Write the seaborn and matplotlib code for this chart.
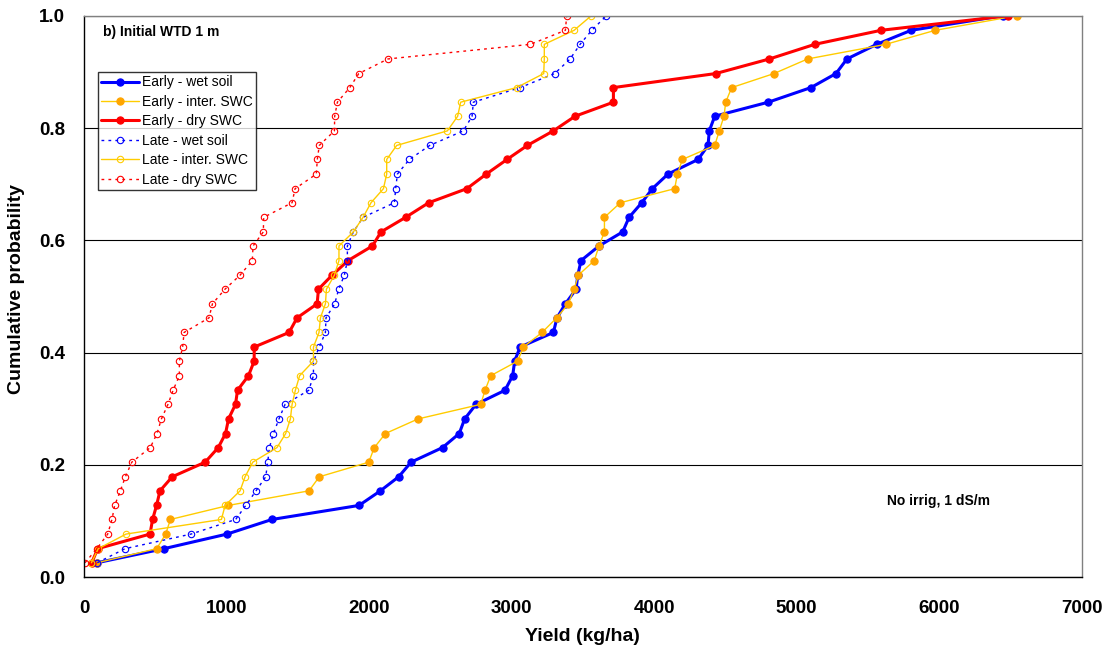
import matplotlib
matplotlib.use("Agg")
import matplotlib.pyplot as plt
import seaborn as sns

# cumulative probability of each ranked yield (39 seasons)
prob = [0.026, 0.051, 0.077, 0.103, 0.128, 0.154, 0.179, 0.205, 0.231, 0.256,
        0.282, 0.308, 0.333, 0.359, 0.385, 0.410, 0.436, 0.462, 0.487, 0.513,
        0.538, 0.564, 0.590, 0.615, 0.641, 0.667, 0.692, 0.718, 0.744, 0.769,
        0.795, 0.821, 0.846, 0.872, 0.897, 0.923, 0.949, 0.974, 1.000]

# yields in kg/ha
early_wet = [93, 561, 1004, 1319, 1930, 2080, 2208, 2295, 2516, 2633,
             2671, 2751, 2954, 3008, 3022, 3060, 3294, 3319, 3378, 3453,
             3465, 3488, 3614, 3780, 3825, 3914, 3988, 4098, 4309, 4379,
             4388, 4426, 4802, 5101, 5277, 5354, 5563, 5804, 6449]
early_inter = [93, 510, 573, 606, 1013, 1579, 1651, 1998, 2037, 2115,
               2344, 2784, 2814, 2854, 3043, 3083, 3214, 3317, 3399, 3439,
               3469, 3581, 3614, 3652, 3652, 3764, 4145, 4164, 4199, 4426,
               4458, 4491, 4503, 4545, 4842, 5078, 5626, 5974, 6547]
early_dry = [54, 96, 463, 481, 509, 533, 619, 850, 942, 993,
             1014, 1063, 1077, 1154, 1194, 1194, 1439, 1495, 1636, 1645,
             1741, 1853, 2024, 2084, 2257, 2419, 2686, 2823, 2968, 3111,
             3294, 3446, 3715, 3715, 4433, 4810, 5128, 5593, 6487]
late_wet = [93, 288, 751, 1064, 1135, 1207, 1275, 1289, 1301, 1329,
            1368, 1411, 1577, 1610, 1610, 1651, 1694, 1698, 1759, 1787,
            1827, 1848, 1848, 1890, 1958, 2178, 2187, 2199, 2283, 2426,
            2662, 2723, 2732, 3060, 3303, 3411, 3481, 3563, 3666]
late_inter = [52, 100, 295, 964, 990, 1095, 1130, 1184, 1354, 1415,
              1448, 1460, 1483, 1513, 1610, 1610, 1649, 1659, 1694, 1701,
              1757, 1789, 1789, 1890, 1958, 2014, 2101, 2124, 2124, 2194,
              2550, 2622, 2643, 3036, 3226, 3230, 3230, 3439, 3560]
late_dry = [7, 90, 166, 196, 215, 255, 290, 335, 465, 512,
            543, 589, 625, 669, 669, 692, 702, 877, 901, 989,
            1095, 1181, 1186, 1258, 1261, 1460, 1481, 1630, 1637, 1651,
            1757, 1759, 1778, 1865, 1928, 2133, 3132, 3378, 3387]

names = ["Early - wet soil", "Early - inter. SWC", "Early - dry SWC",
         "Late - wet soil", "Late - inter. SWC", "Late - dry SWC"]
yields = [early_wet, early_inter, early_dry, late_wet, late_inter, late_dry]

x_ticks = [0, 1000, 2000, 3000, 4000, 5000, 6000, 7000]
y_ticks = [0.0, 0.2, 0.4, 0.6, 0.8, 1.0]

dot = (0, (2, 3))
styles = {
    "Early - wet soil":   dict(color="#0000ff", lw=2.2, ls="-", ms=5.2, mfc="#0000ff", mec="#0000ff", mew=0.8),
    "Early - inter. SWC": dict(color="#ffcc00", lw=1.0, ls="-", ms=5.2, mfc="#ffa500", mec="#ffa500", mew=0.8),
    "Early - dry SWC":    dict(color="#ff0000", lw=2.2, ls="-", ms=5.2, mfc="#ff0000", mec="#ff0000", mew=0.8),
    "Late - wet soil":    dict(color="#0000ff", lw=1.0, ls=dot, ms=4.6, mfc="none", mec="#0000ff", mew=0.8),
    "Late - inter. SWC":  dict(color="#ffcc00", lw=1.0, ls="-", ms=4.6, mfc="none", mec="#ffcc00", mew=0.8),
    "Late - dry SWC":     dict(color="#ff0000", lw=1.0, ls=dot, ms=4.6, mfc="none", mec="#ff0000", mew=0.8),
}

sns.set_style("white")
plt.rcParams["font.family"] = ["Liberation Sans", "DejaVu Sans"]
plt.rcParams["text.color"] = "black"

fig = plt.figure(figsize=(11.19, 6.57), dpi=100)
ax = fig.add_axes([0.0751, 0.1213, 0.8914, 0.8548])

for name, vals in zip(names, yields):
    st = styles[name]
    sns.lineplot(x=vals, y=prob, ax=ax, estimator=None, sort=False,
                 color=st["color"], linewidth=st["lw"], linestyle=st["ls"],
                 marker="o", markersize=st["ms"], markerfacecolor=st["mfc"],
                 markeredgecolor=st["mec"], markeredgewidth=st["mew"],
                 label=name, legend=False)

ax.set_xlim(0, 7000)
ax.set_ylim(0, 1.0)
ax.set_xticks(x_ticks)
ax.set_yticks(y_ticks)
ax.set_xticklabels([str(t) for t in x_ticks])
ax.set_yticklabels([f"{t:.1f}" for t in y_ticks])
for lab in ax.get_xticklabels() + ax.get_yticklabels():
    lab.set_fontweight("bold")

ax.tick_params(axis="both", direction="out", length=7, width=1,
               color="black", labelsize=13.5, labelcolor="black")
ax.tick_params(axis="x", pad=9)
ax.tick_params(axis="y", pad=6.5)

# horizontal gridlines only
ax.yaxis.grid(True, color="black", lw=0.8)
ax.xaxis.grid(False)
ax.set_axisbelow(True)

for side in ["left", "bottom"]:
    ax.spines[side].set_color("black")
    ax.spines[side].set_linewidth(1.0)
for side in ["top", "right"]:
    ax.spines[side].set_color("#808080")
    ax.spines[side].set_linewidth(1.0)

ax.set_xlabel("Yield (kg/ha)", fontsize=14, fontweight="bold", color="black")
ax.set_ylabel("Cumulative probability", fontsize=14, fontweight="bold", color="black")
ax.xaxis.set_label_coords(0.5, -0.09)
ax.yaxis.set_label_coords(-0.059, 0.513)

ax.text(0.019, 0.971, "b) Initial WTD 1 m", transform=ax.transAxes,
        fontsize=10, fontweight="bold", va="center", ha="left", color="black")
ax.text(0.805, 0.136, "No irrig, 1 dS/m", transform=ax.transAxes,
        fontsize=10, fontweight="bold", va="center", ha="left", color="black")

leg = ax.legend(loc="upper left", bbox_to_anchor=(0.0143, 0.899),
                borderaxespad=0, fontsize=10, frameon=True, fancybox=False,
                handlelength=2.7, handletextpad=0.25, labelspacing=0.39,
                borderpad=0.22, labelcolor="black")
leg.get_frame().set_edgecolor("black")
leg.get_frame().set_linewidth(1.0)

plt.savefig("out.png", dpi=100)
